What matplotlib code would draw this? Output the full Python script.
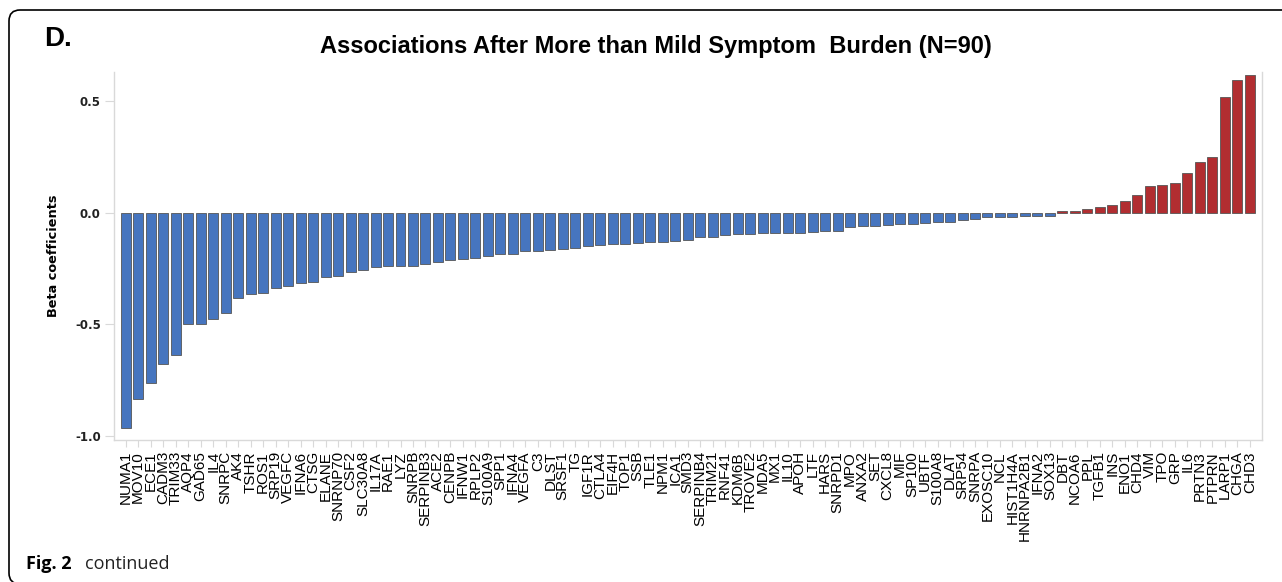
import matplotlib
matplotlib.use("Agg")
import matplotlib.pyplot as plt
from matplotlib.patches import FancyBboxPatch
from matplotlib.transforms import IdentityTransform

# Antibody / antigen targets, ordered by beta coefficient
genes = [
    "NUMA1", "MOV10", "ECE1", "CADM3", "TRIM33", "AQP4", "GAD65", "IL4", "SNRPC", "AK4",
    "TSHR", "ROS1", "SRP19", "VEGFC", "IFNA6", "CTSG", "ELANE", "SNRNP70", "CSF2", "SLC30A8",
    "IL17A", "RAE1", "LYZ", "SNRPB", "SERPINB3", "ACE2", "CENPB", "IFNW1", "RPLP2", "S100A9",
    "SPP1", "IFNA4", "VEGFA", "C3", "DLST", "SRSF1", "TG", "IGF1R", "CTLA4", "EIF4H",
    "TOP1", "SSB", "TLE1", "NPM1", "ICA1", "SMD3", "SERPINB4", "TRIM21", "RNF41", "KDM6B",
    "TROVE2", "MDA5", "MX1", "IL10", "APOH", "LTF", "HARS", "SNRPD1", "MPO", "ANXA2",
    "SET", "CXCL8", "MIF", "SP100", "UBTF", "S100A8", "DLAT", "SRP54", "SNRPA", "EXOSC10",
    "NCL", "HIST1H4A", "HNRNPA2B1", "IFNA2", "SOX13", "DBT", "NCOA6", "PPL", "TGFB1", "INS",
    "ENO1", "CHD4", "VIM", "TPO", "GRP", "IL6", "PRTN3", "PTPRN", "LARP1", "CHGA", "CHD3",
]

beta = [
    -0.962, -0.835, -0.762, -0.677, -0.635, -0.499, -0.497, -0.474, -0.448, -0.383,
    -0.363, -0.359, -0.336, -0.329, -0.312, -0.309, -0.289, -0.284, -0.263, -0.256,
    -0.241, -0.240, -0.237, -0.236, -0.229, -0.218, -0.211, -0.206, -0.202, -0.194,
    -0.184, -0.182, -0.170, -0.169, -0.164, -0.160, -0.158, -0.149, -0.143, -0.141,
    -0.139, -0.136, -0.129, -0.129, -0.126, -0.122, -0.106, -0.106, -0.100, -0.096,
    -0.096, -0.091, -0.091, -0.091, -0.090, -0.087, -0.079, -0.079, -0.064, -0.057,
    -0.057, -0.052, -0.049, -0.048, -0.046, -0.039, -0.039, -0.031, -0.028, -0.019,
    -0.019, -0.019, -0.012, -0.012, -0.012, 0.007, 0.009, 0.017, 0.027, 0.034,
    0.052, 0.082, 0.120, 0.127, 0.133, 0.179, 0.229, 0.251, 0.522, 0.595, 0.617,
]

yticks = [-1.0, -0.5, 0.0, 0.5]
ytick_labels = ["-1.0", "-0.5", "0.0", "0.5"]

NEG_COLOR = "#4675bf"
POS_COLOR = "#b12e31"
AXIS_GRAY = "#d9d9d9"

fig = plt.figure(figsize=(12.82, 5.82), dpi=100)
ax = fig.add_axes([114 / 1282, 1 - 440 / 582, (1262 - 114) / 1282, (440 - 72) / 582])

x = list(range(len(genes)))
colors = [NEG_COLOR if v < 0 else POS_COLOR for v in beta]
ax.bar(x, beta, width=0.8, color=colors, edgecolor="#555555", linewidth=0.6)

ax.set_xlim(-0.94, len(genes) - 1 + 0.98)
ax.set_ylim(-1.018, 0.632)

ax.set_xticks(x)
ax.set_xticklabels(genes, rotation=90, fontsize=11, family="Liberation Sans")
ax.set_yticks(yticks)
ax.set_yticklabels(ytick_labels, fontsize=8.5, fontweight="bold", color="#222222")

for side in ("left", "bottom", "right"):
    ax.spines[side].set_color(AXIS_GRAY)
    ax.spines[side].set_linewidth(1.0)
ax.spines["top"].set_visible(False)
ax.tick_params(axis="x", length=5, color=AXIS_GRAY, pad=3)
ax.tick_params(axis="y", length=6.5, color=AXIS_GRAY, pad=3)

ax.set_ylabel("Beta coefficients", fontsize=9.3, fontweight="bold", labelpad=11)

fig.text(656 / 1282, 1 - 46 / 582, "Associations After More than Mild Symptom  Burden (N=90)",
         ha="center", va="center", fontsize=17, fontweight="bold", family="Liberation Sans")
fig.text(44 / 1282, 1 - 39 / 582, "D.", ha="left", va="center",
         fontsize=20, fontweight="bold", family="Liberation Sans")

fig.text(26 / 1282, 1 - 564 / 582, "Fig. 2", ha="left", va="center",
         fontsize=13, fontweight="bold", family="Open Sans")
fig.text(85 / 1282, 1 - 564 / 582, "continued", ha="left", va="center",
         fontsize=13, family="Open Sans", color="#222222")

# Rounded panel frame, running off the right and bottom edges
frame = FancyBboxPatch((9, -2), 1320, 574, boxstyle="round,pad=0,rounding_size=11",
                       transform=IdentityTransform(), fill=False,
                       edgecolor="black", linewidth=1.2)
fig.add_artist(frame)

fig.savefig("out.png", dpi=100)
